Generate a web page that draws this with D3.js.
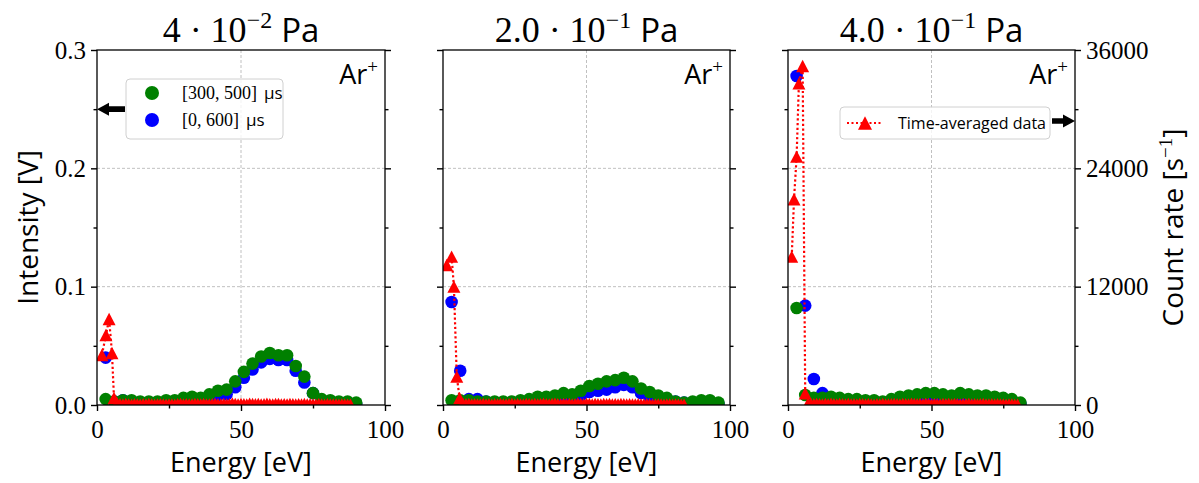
<!DOCTYPE html>
<html>
<head>
<meta charset="utf-8">
<script src="https://cdn.jsdelivr.net/npm/d3@7"></script>
<style>
body { margin: 0; background: #fff; }
svg { display: block; }
</style>
</head>
<body>
<svg id="svg" width="1199" height="483"></svg>
<script>
// panel titles: mantissa · 10^exponent Pa
var titleMantissa = ["4", "2.0", "4.0"];
var titleExponent = ["\u22122", "\u22121", "\u22121"];

var energyTicks = [0, 50, 100];
var energyMinor = [25, 75];
var intensityTicks = [0, 0.1, 0.2, 0.3];
var intensityMinor = [0.05, 0.15, 0.25];
var countTicks = [0, 12000, 24000, 36000];
var countMinor = [6000, 18000, 30000];

// circle data (intensity, V) on a 3 eV grid
var energyLeft = [3,6,9,12,15,18,21,24,27,30,33,36,39,42,45,48,51,54,57,60,63,66,69,72,75,78,81,84,87,90];
var greenLeft = [0.005,0.003,0.004,0.004,0.003,0.003,0.003,0.004,0.004,0.006,0.007,0.006,0.009,0.012,0.013,0.020,0.028,0.035,0.041,0.044,0.042,0.042,0.033,0.024,0.010,0.005,0.004,0.003,0.003,0.002];
var blueLeft = [0.040,0.003,0.004,0.003,0.002,0.002,0.002,0.003,0.003,0.004,0.005,0.004,0.006,0.008,0.009,0.015,0.023,0.030,0.036,0.039,0.038,0.038,0.029,0.019,0.010,0.004,0.003,0.002,0.001,0.001];

var energyMiddle = [3,6,9,12,15,18,21,24,27,30,33,36,39,42,45,48,51,54,57,60,63,66,69,72,75,78,81,84,87,90,93,96];
var greenMiddle = [0.004,0.004,0.004,0.003,0.003,0.003,0.003,0.003,0.004,0.005,0.007,0.007,0.008,0.010,0.009,0.012,0.016,0.018,0.020,0.021,0.023,0.020,0.014,0.011,0.008,0.006,0.003,0.002,0.003,0.004,0.004,0.002];
var blueMiddle = [0.087,0.029,0.005,0.005,0.003,0.002,0.002,0.002,0.003,0.003,0.004,0.004,0.005,0.006,0.007,0.008,0.011,0.012,0.013,0.015,0.017,0.015,0.010,0.007,0.005,0.004,0.003,0.002,0.001,0.001,0.001,0.001];

var energyRight = [3,6,9,12,15,18,21,24,27,30,33,36,39,42,45,48,51,54,57,60,63,66,69,72,75,78,81];
var greenRight = [0.082,0.0085,0.006,0.006,0.007,0.006,0.005,0.005,0.004,0.004,0.003,0.005,0.007,0.008,0.009,0.010,0.010,0.009,0.008,0.010,0.009,0.008,0.008,0.007,0.006,0.005,0.002];
var blueRight = [0.278,0.084,0.022,0.010,0.005,0.003,0.003,0.002,0.002,0.002,0.002,0.003,0.004,0.005,0.006,0.007,0.007,0.006,0.005,0.006,0.006,0.005,0.005,0.004,0.003,0.002,0.001];

// time-averaged data (count rate, 1/s): peak part, then 1 eV tail
var redHeadEnergyLeft = [1.7, 3.1, 4.2, 5.2, 5.9];
var redHeadLeft = [5070, 7100, 8720, 5270, 710];
var redHeadEnergyMiddle = [1.3, 3.0, 3.8, 4.8, 5.8];
var redHeadMiddle = [14200, 15040, 12000, 2870, 700];
var redHeadEnergyRight = [1.3, 2.1, 3.0, 3.8, 5.1, 6.0];
var redHeadRight = [15040, 20860, 25180, 32620, 34380, 1190];

var redTailEnergy = [7,8,9,10,11,12,13,14,15,16,17,18,19,20,21,22,23,24,25,26,27,28,29,30,31,32,33,34,35,36,37,38,39,40,41,42,43,44,45,46,47,48,49,50,51,52,53,54,55,56,57,58,59,60,61,62,63,64,65,66,67,68,69,70,71,72,73,74,75,76,77,78,79,80,81,82,83,84,85,86,87,88];
var redTailLeft = [150,90,60,110,70,40,90,60,30,80,
  50,100,70,40,60,90,50,30,70,60,
  40,80,110,60,90,50,70,120,80,60,
  100,70,50,90,130,80,60,110,70,90,
  150,100,70,120,90,60,140,100,80,110,
  70,90,130,80,60,100,120,70,90,60,
  110,80,50,90,70,100,60,80,50,70,
  90,60,40,80,60,50,70,40,60,50,30,40];
var redTailMiddle = [120,80,100,60,90,50,70,110,60,80,
  40,90,60,100,70,50,80,120,60,90,
  70,50,100,80,60,110,70,90,130,80,
  60,100,140,90,70,120,80,110,60,90,
  150,110,80,130,100,70,120,90,60,100,
  80,110,70,90,60,100,80,50,90,70,
  60,80,50,70,90,60,40,70,50,60,
  40,60,50,30,60,40,30,40];
var redTailRight = [160,110,80,120,90,60,100,70,130,90,
  60,110,80,50,100,70,90,60,120,80,
  50,90,70,40,80,60,100,70,50,90,
  120,80,60,110,90,70,130,100,80,120,
  90,140,100,70,110,90,60,120,80,100,
  70,110,90,60,100,80,120,70,90,60,
  80,100,70,50,90,60,80,50,70,40,
  60,50,40,30];

var greenColor = "#008000", blueColor = "#0000ff", redColor = "#ff0000";
var serif = "'Liberation Serif', serif";
var sans = "'Open Sans', 'DejaVu Sans', sans-serif";

var plotTop = 50, plotBottom = 405;
var circleR = 6.3, triSize = 13;

var panels = [
  { x0: 97, x1: 385, E: energyLeft, green: greenLeft, blue: blueLeft,
    redE: redHeadEnergyLeft.concat(redTailEnergy.slice(0, redTailLeft.length)),
    red: redHeadLeft.concat(redTailLeft) },
  { x0: 443, x1: 730, E: energyMiddle, green: greenMiddle, blue: blueMiddle,
    redE: redHeadEnergyMiddle.concat(redTailEnergy.slice(0, redTailMiddle.length)),
    red: redHeadMiddle.concat(redTailMiddle) },
  { x0: 788, x1: 1075, E: energyRight, green: greenRight, blue: blueRight,
    redE: redHeadEnergyRight.concat(redTailEnergy.slice(0, redTailRight.length)),
    red: redHeadRight.concat(redTailRight) }
];

var svg = d3.select("#svg");
var defs = svg.append("defs");

var triPath = function(s) {
  var h = s * 0.95;
  return "M0," + (-h / 2) + "L" + (s / 2) + "," + (h / 2) + "L" + (-s / 2) + "," + (h / 2) + "Z";
};

var styleAxis = function(g, labels) {
  g.select(".domain").remove();
  g.selectAll(".tick line").attr("stroke", "#000").attr("stroke-width", 1.4);
  g.selectAll(".tick text").attr("font-family", serif).attr("font-size", 25).attr("fill", "#000");
  if (!labels) g.selectAll(".tick text").remove();
};

panels.forEach(function(p, i) {
  var x = d3.scaleLinear().domain([0, 100]).range([p.x0, p.x1]);
  var y = d3.scaleLinear().domain([0, 0.3]).range([plotBottom, plotTop]);
  var yc = d3.scaleLinear().domain([0, 36000]).range([plotBottom, plotTop]);

  var g = svg.append("g");

  defs.append("clipPath").attr("id", "clip" + i)
    .append("rect").attr("x", p.x0).attr("y", plotTop)
    .attr("width", p.x1 - p.x0).attr("height", plotBottom - plotTop);

  // grid
  g.append("line").attr("x1", x(50)).attr("x2", x(50)).attr("y1", plotTop).attr("y2", plotBottom)
    .attr("stroke", "#b0b0b0").attr("stroke-width", 0.8).attr("stroke-dasharray", "3,2");
  [0.1, 0.2].forEach(function(v) {
    g.append("line").attr("x1", p.x0).attr("x2", p.x1).attr("y1", y(v)).attr("y2", y(v))
      .attr("stroke", "#b0b0b0").attr("stroke-width", 0.8).attr("stroke-dasharray", "3,2");
  });

  // axes
  g.append("g").attr("transform", "translate(0," + plotBottom + ")")
    .call(d3.axisBottom(x).tickValues(energyTicks).tickSize(6).tickPadding(9).tickFormat(d3.format("d")))
    .call(styleAxis, true);
  g.append("g").attr("transform", "translate(0," + plotBottom + ")")
    .call(d3.axisBottom(x).tickValues(energyMinor).tickSize(3.5).tickFormat(""))
    .call(styleAxis, false);
  g.append("g").attr("transform", "translate(" + p.x0 + ",0)")
    .call(d3.axisLeft(y).tickValues(intensityTicks).tickSize(6).tickPadding(5).tickFormat(d3.format(".1f")))
    .call(styleAxis, i === 0);
  g.append("g").attr("transform", "translate(" + p.x0 + ",0)")
    .call(d3.axisLeft(y).tickValues(intensityMinor).tickSize(3.5).tickFormat(""))
    .call(styleAxis, false);
  g.append("g").attr("transform", "translate(" + p.x1 + ",0)")
    .call(d3.axisRight(yc).tickValues(countTicks).tickSize(6).tickPadding(5).tickFormat(d3.format("d")))
    .call(styleAxis, i === 2);
  g.append("g").attr("transform", "translate(" + p.x1 + ",0)")
    .call(d3.axisRight(yc).tickValues(countMinor).tickSize(3.5).tickFormat(""))
    .call(styleAxis, false);

  // data
  var plot = g.append("g").attr("clip-path", "url(#clip" + i + ")");
  plot.selectAll("circle.blue").data(p.E).enter().append("circle")
    .attr("class", "blue")
    .attr("cx", function(d) { return x(d); })
    .attr("cy", function(d, j) { return y(p.blue[j]); })
    .attr("r", circleR).attr("fill", blueColor);
  plot.selectAll("circle.green").data(p.E).enter().append("circle")
    .attr("class", "green")
    .attr("cx", function(d) { return x(d); })
    .attr("cy", function(d, j) { return y(p.green[j]); })
    .attr("r", circleR).attr("fill", greenColor);

  var line = d3.line()
    .x(function(d) { return x(d); })
    .y(function(d, j) { return yc(p.red[j]); });
  plot.append("path").datum(p.redE).attr("d", line)
    .attr("fill", "none").attr("stroke", redColor).attr("stroke-width", 2.2)
    .attr("stroke-dasharray", "2.2,2.5");
  plot.selectAll("path.tri").data(p.redE).enter().append("path")
    .attr("class", "tri")
    .attr("transform", function(d, j) { return "translate(" + x(d) + "," + yc(p.red[j]) + ")"; })
    .attr("d", triPath(triSize)).attr("fill", redColor);

  // frame
  g.append("rect").attr("x", p.x0).attr("y", plotTop)
    .attr("width", p.x1 - p.x0).attr("height", plotBottom - plotTop)
    .attr("fill", "none").attr("stroke", "#000").attr("stroke-width", 1.3);

  // title
  var t = g.append("text").attr("x", (p.x0 + p.x1) / 2).attr("y", 42)
    .attr("text-anchor", "middle").attr("font-size", 36).attr("fill", "#000");
  t.append("tspan").attr("font-family", serif).text(titleMantissa[i] + " \u00b7 10");
  t.append("tspan").attr("font-family", serif).attr("font-size", 24).attr("dy", -14).text(titleExponent[i]);
  t.append("tspan").attr("font-family", sans).attr("font-size", 33).attr("dy", 14).attr("dx", 9).text("Pa");

  // Ar+
  var ar = g.append("text").attr("x", p.x1 - 7).attr("y", 84)
    .attr("text-anchor", "end").attr("font-size", 27).attr("fill", "#000");
  ar.append("tspan").attr("font-family", sans).text("Ar");
  ar.append("tspan").attr("font-family", serif).attr("font-size", 19).attr("dy", -11).text("+");

  // x label
  g.append("text").attr("x", (p.x0 + p.x1) / 2).attr("y", 472)
    .attr("text-anchor", "middle").attr("font-family", sans).attr("font-size", 27)
    .text("Energy [eV]");

  if (i === 0) {
    // legend with the two time windows
    var lg = g.append("g");
    lg.append("rect").attr("x", 126).attr("y", 79).attr("width", 157).attr("height", 60)
      .attr("rx", 4).attr("fill", "#fff").attr("fill-opacity", 0.8)
      .attr("stroke", "#d0d0d0").attr("stroke-width", 1);
    [["[300, 500]", greenColor, 93], ["[0, 600]", blueColor, 120]].forEach(function(it) {
      lg.append("circle").attr("cx", 152).attr("cy", it[2]).attr("r", 7).attr("fill", it[1]);
      var tx = lg.append("text").attr("x", 182).attr("y", it[2] + 6).attr("font-size", 18).attr("fill", "#000");
      tx.append("tspan").attr("font-family", serif).text(it[0]);
      tx.append("tspan").attr("font-family", sans).attr("font-size", 17).attr("dx", 7).text("\u03bcs");
    });
    // arrow to left axis
    var ay = y(0.25);
    g.append("path")
      .attr("d", "M" + p.x0 + "," + ay + "L" + (p.x0 + 12) + "," + (ay - 6.5) + "L" + (p.x0 + 12) + "," + (ay - 2.8) +
        "L" + (p.x0 + 28) + "," + (ay - 2.8) + "L" + (p.x0 + 28) + "," + (ay + 2.8) + "L" + (p.x0 + 12) + "," + (ay + 2.8) +
        "L" + (p.x0 + 12) + "," + (ay + 6.5) + "Z")
      .attr("fill", "#000");
    // y label
    g.append("text").attr("transform", "translate(38," + ((plotTop + plotBottom) / 2) + ") rotate(-90)")
      .attr("text-anchor", "middle").attr("font-family", sans).attr("font-size", 28)
      .text("Intensity [V]");
  }

  if (i === 2) {
    var rg = g.append("g");
    rg.append("rect").attr("x", 840).attr("y", 107).attr("width", 210).attr("height", 32)
      .attr("rx", 4).attr("fill", "#fff").attr("fill-opacity", 0.8)
      .attr("stroke", "#d0d0d0").attr("stroke-width", 1);
    rg.append("line").attr("x1", 847).attr("x2", 882).attr("y1", 123).attr("y2", 123)
      .attr("stroke", redColor).attr("stroke-width", 2).attr("stroke-dasharray", "2,2.5");
    rg.append("path").attr("transform", "translate(865,123)").attr("d", triPath(14)).attr("fill", redColor);
    rg.append("text").attr("x", 898).attr("y", 129).attr("font-family", sans).attr("font-size", 16)
      .text("Time-averaged data");
    // arrow to right axis
    var by = yc(28800);
    g.append("path")
      .attr("d", "M" + p.x1 + "," + by + "L" + (p.x1 - 12) + "," + (by - 6.5) + "L" + (p.x1 - 12) + "," + (by - 2.8) +
        "L" + (p.x1 - 23) + "," + (by - 2.8) + "L" + (p.x1 - 23) + "," + (by + 2.8) + "L" + (p.x1 - 12) + "," + (by + 2.8) +
        "L" + (p.x1 - 12) + "," + (by + 6.5) + "Z")
      .attr("fill", "#000");
    var cr = g.append("text").attr("transform", "translate(1183," + ((plotTop + plotBottom) / 2) + ") rotate(-90)")
      .attr("text-anchor", "middle").attr("font-size", 28);
    cr.append("tspan").attr("font-family", sans).text("Count rate [s");
    cr.append("tspan").attr("font-family", serif).attr("font-size", 19).attr("dy", -11).text("\u22121");
    cr.append("tspan").attr("font-family", sans).attr("dy", 11).text("]");
  }
});
</script>
</body>
</html>
